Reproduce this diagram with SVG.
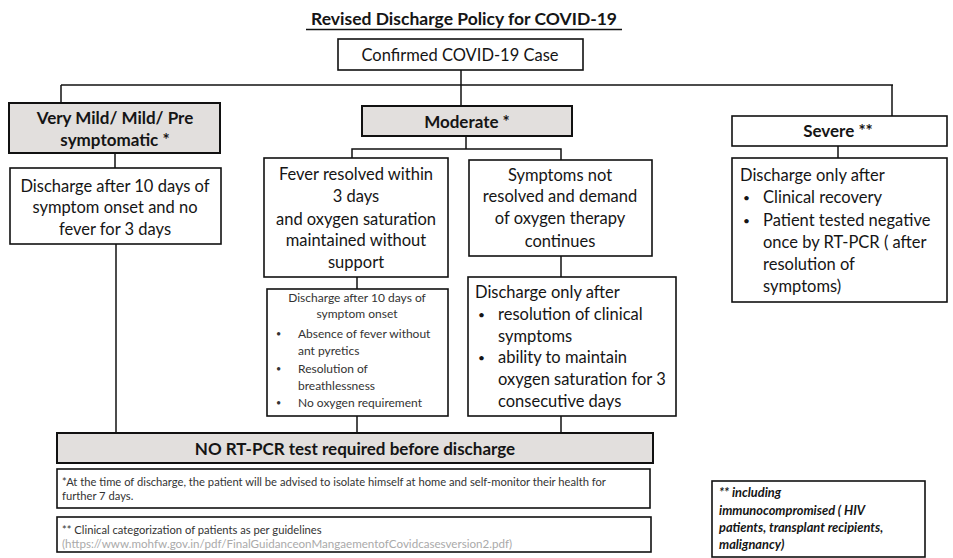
<svg xmlns="http://www.w3.org/2000/svg" width="953" height="558" viewBox="0 0 953 558">
<style>
text{font-family:Lato,"Liberation Sans",sans-serif;fill:#151515}
.box{fill:#fff;stroke:#111;stroke-width:1.6}
.gbox{fill:#e2dfdd;stroke:#111;stroke-width:2}
.t{font-size:16.5px}
.c{text-anchor:middle}
.b{font-weight:bold;font-size:17px}
.tt{font-weight:bold;font-size:17.5px}
.s{font-size:12px;fill:#333}
.f{font-size:11.2px;fill:#333}
.u{font-size:11.6px;fill:#aaa}
.fi{font-size:12.8px;font-weight:bold;font-style:italic}
.bl{font-size:12px}
.bs{font-size:9px;fill:#333}
.con line,.con polyline{stroke:#111;stroke-width:1.5;fill:none}
</style>
<g id="title">
<text x="464" y="25" class="tt c">Revised Discharge Policy for COVID-19</text>
<line x1="306" y1="29.5" x2="622" y2="29.5" stroke="#111" stroke-width="1.5"/>
</g>
<g class="con" id="connectors">
<line x1="461" y1="70" x2="461" y2="85"/>
<line x1="61" y1="85" x2="893" y2="85"/>
<line x1="61" y1="85" x2="61" y2="103"/>
<line x1="461" y1="85" x2="461" y2="106"/>
<line x1="892" y1="85" x2="892" y2="116"/>
<line x1="115" y1="153" x2="115" y2="168"/>
<line x1="116" y1="244" x2="116" y2="433"/>
<line x1="466" y1="136" x2="466" y2="149"/>
<polyline points="352,158 352,149 561,149 561,160"/>
<line x1="357" y1="277" x2="357" y2="289"/>
<line x1="561" y1="256" x2="561" y2="277"/>
<line x1="357" y1="416" x2="357" y2="433"/>
<line x1="561" y1="416" x2="561" y2="433"/>
<line x1="838" y1="146" x2="838" y2="158"/>
</g>
<g id="confirmed">
<rect class="box" x="338" y="39" width="245" height="31"/>
<text x="460" y="61" class="t c">Confirmed  COVID-19 Case</text>
</g>
<g id="mild">
<rect class="gbox" x="9" y="103" width="211" height="50"/>
<text x="115" y="124" class="b c">Very Mild/ Mild/ Pre</text>
<text x="115" y="146" class="b c">symptomatic *</text>
</g>
<g id="mild-discharge">
<rect class="box" x="10" y="168" width="211" height="76"/>
<text x="115" y="192" class="t c">Discharge after 10 days of</text>
<text x="115" y="213" class="t c">symptom onset and no</text>
<text x="115" y="235" class="t c">fever for 3 days</text>
</g>
<g id="moderate">
<rect class="gbox" x="362" y="106" width="210" height="30"/>
<text x="467" y="128" class="b c">Moderate *</text>
</g>
<g id="fever-resolved">
<rect class="box" x="264" y="158" width="184" height="119"/>
<text x="356" y="180" class="t c">Fever resolved within</text>
<text x="356" y="202" class="t c">3 days</text>
<text x="356" y="225" class="t c">and oxygen saturation</text>
<text x="356" y="246" class="t c">maintained without</text>
<text x="356" y="268" class="t c">support</text>
</g>
<g id="symptoms-not-resolved">
<rect class="box" x="469" y="160" width="183" height="96"/>
<text x="560" y="181" class="t c">Symptoms not</text>
<text x="560" y="202" class="t c">resolved and demand</text>
<text x="560" y="224" class="t c">of oxygen therapy</text>
<text x="560" y="247" class="t c">continues</text>
</g>
<g id="moderate-discharge-1">
<rect class="box" x="267" y="289" width="181" height="127"/>
<text x="357" y="302" class="s c">Discharge after 10 days of</text>
<text x="357" y="318" class="s c">symptom onset</text>
<text x="276" y="337" class="bs">•</text><text x="298" y="338" class="s">Absence of fever without</text>
<text x="298" y="355" class="s">ant pyretics</text>
<text x="276" y="372" class="bs">•</text><text x="298" y="373" class="s">Resolution of</text>
<text x="298" y="390" class="s">breathlessness</text>
<text x="276" y="406" class="bs">•</text><text x="298" y="407" class="s">No oxygen requirement</text>
</g>
<g id="moderate-discharge-2">
<rect class="box" x="468" y="277" width="208" height="139"/>
<text x="475" y="298" class="t">Discharge only after</text>
<text x="478" y="319" class="bl">•</text><text x="498" y="320" class="t">resolution of clinical</text>
<text x="498" y="342" class="t">symptoms</text>
<text x="478" y="362" class="bl">•</text><text x="498" y="363" class="t">ability to maintain</text>
<text x="498" y="385" class="t">oxygen saturation for 3</text>
<text x="498" y="407" class="t">consecutive days</text>
</g>
<g id="severe">
<rect class="box" x="732" y="116" width="215" height="30" stroke-width="2"/>
<text x="838" y="137" class="b c">Severe **</text>
</g>
<g id="severe-discharge">
<rect class="box" x="732" y="158" width="215" height="144"/>
<text x="740" y="181" class="t">Discharge only after</text>
<text x="743" y="202" class="bl">•</text><text x="763" y="203" class="t">Clinical recovery</text>
<text x="743" y="225" class="bl">•</text><text x="763" y="226" class="t">Patient tested negative</text>
<text x="763" y="248" class="t">once by RT-PCR ( after</text>
<text x="763" y="270" class="t">resolution of</text>
<text x="763" y="292" class="t">symptoms)</text>
</g>
<g id="no-rtpcr">
<rect class="gbox" x="57" y="433" width="596" height="30"/>
<text x="355" y="455" class="b c">NO RT-PCR test required before discharge</text>
</g>
<g id="footnote-1">
<rect class="box" x="57" y="469" width="593" height="39" stroke-width="2"/>
<text x="62" y="486" class="f">*At the time of discharge, the patient will be advised to isolate himself at home and self-monitor their health for</text>
<text x="62" y="500" class="f">further 7 days.</text>
</g>
<g id="footnote-2">
<rect class="box" x="57" y="517" width="594" height="35" stroke-width="2"/>
<text x="62" y="534" class="f">** Clinical categorization of patients  as per guidelines</text>
<text x="62" y="548" class="u">(https://www.mohfw.gov.in/pdf/FinalGuidanceonMangaementofCovidcasesversion2.pdf)</text>
</g>
<g id="footnote-severe">
<rect class="box" x="712" y="481" width="213" height="76"/>
<text x="719" y="497" class="fi">** including</text>
<text x="719" y="515" class="fi">immunocompromised ( HIV</text>
<text x="719" y="532" class="fi">patients, transplant recipients,</text>
<text x="719" y="549" class="fi">malignancy)</text>
</g>
</svg>
